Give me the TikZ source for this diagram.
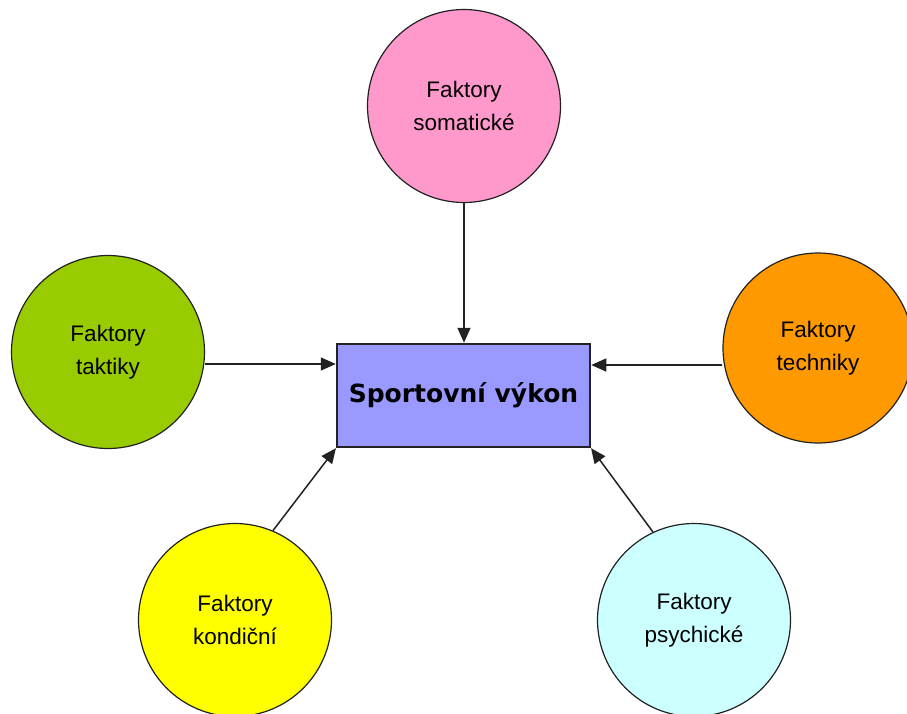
\documentclass[tikz,border=0pt]{standalone}
\usepackage{fontspec}
\setmainfont{Liberation Sans}
\newfontfamily\titlefont{DejaVu Sans}
\usetikzlibrary{arrows.meta}
\definecolor{cpink}{HTML}{FF99CC}
\definecolor{cgreen}{HTML}{99CC00}
\definecolor{corange}{HTML}{FF9900}
\definecolor{cyellow}{HTML}{FFFF00}
\definecolor{ccyan}{HTML}{CCFFFF}
\definecolor{cblue}{HTML}{9999FF}
\definecolor{cline}{HTML}{222222}
\tikzset{
  factor/.style={circle, draw=cline, line width=1.2pt, minimum size=193pt, inner sep=0pt,
    align=center, font=\fontsize{22.5}{33}\selectfont},
  mainbox/.style={rectangle, draw=cline, line width=1.5pt, fill=cblue, minimum width=253pt,
    minimum height=103pt, inner sep=0pt, font=\titlefont\bfseries\fontsize{25}{30}\selectfont},
  arr/.style={-{Triangle[length=15pt,width=13pt]}, line width=1.5pt, draw=cline, fill=cline, shorten >=0.5pt}
}
\begin{document}
\begin{tikzpicture}[x=1pt,y=-1pt]
\useasboundingbox (0,0) rectangle (907,713);
\clip (0,0) rectangle (907,713);
\fill[white] (0,0) rectangle (907,713);
\node[mainbox] (main) at (463.5,395.5) {Sportovní výkon};
\node[factor, fill=cpink] (som) at (464,106) {Faktory\\somatické};
\node[factor, fill=cgreen] (tak) at (108,352) {Faktory\\taktiky};
\node[factor, fill=corange, minimum size=190pt] (tech) at (818,348) {Faktory\\techniky};
\node[factor, fill=cyellow] (kon) at (235,620) {Faktory\\kondiční};
\node[factor, fill=ccyan] (psy) at (694,620) {Faktory\\psychické};
\draw[arr] (som.south) -- (som.south |- main.north);
\draw[arr] ([yshift=-12pt]tak.east) -- ([yshift=-12pt]tak.east -| main.west);
\draw[arr] ([yshift=-17pt]tech.west) -- ([yshift=-17pt]tech.west -| main.east);
\draw[arr] (kon.67) -- (main.south west);
\draw[arr] (psy.115) -- (main.south east);
\end{tikzpicture}
\end{document}
